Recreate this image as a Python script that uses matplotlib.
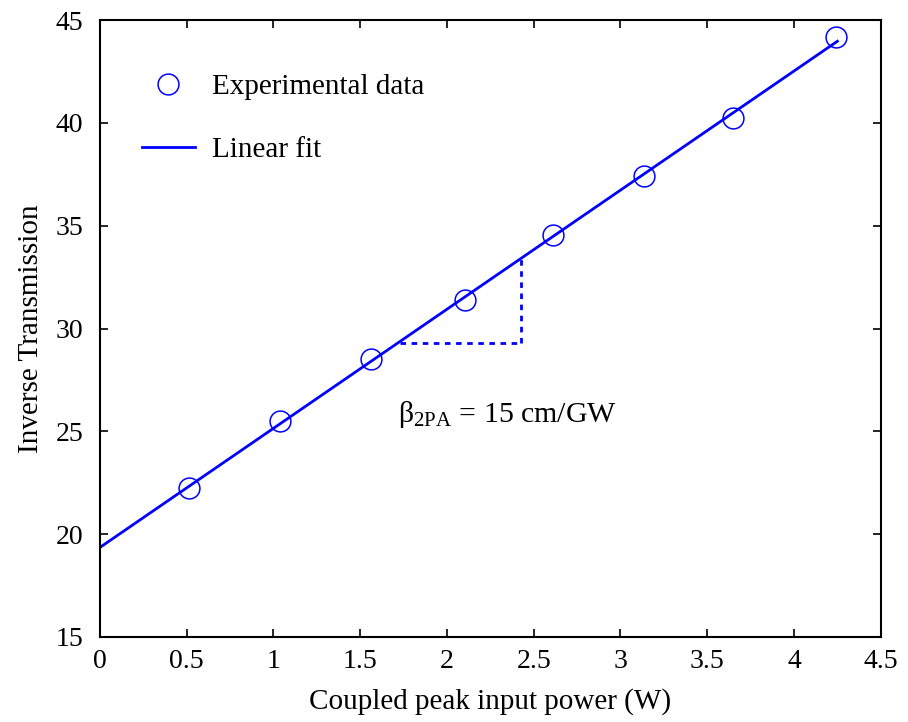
import numpy as np
import matplotlib.pyplot as plt

# coupled peak input power (W) and measured inverse transmission
power = [0.513, 1.037, 1.561, 2.103, 2.61, 3.134, 3.646, 4.24]
inv_trans = [22.24, 25.50, 28.51, 31.38, 34.54, 37.41, 40.23, 44.17]

# slope triangle corners (x, y)
tri_x = [1.73, 2.425]
tri_y = 29.29

plt.rcParams['font.family'] = ['Liberation Serif', 'DejaVu Serif']
plt.rcParams['font.size'] = 21
plt.rcParams['mathtext.fontset'] = 'stix'

fig, ax = plt.subplots(figsize=(9.08, 7.22), dpi=100)

slope, icpt = np.polyfit(power, inv_trans, 1)
xfit = np.linspace(0, 4.25, 50)

ax.plot(power, inv_trans, 'o', mfc='none', mec='blue', ms=15, mew=1.1,
        label='Experimental data')
ax.plot(xfit, icpt + slope * xfit, color='blue', lw=2.0, label='Linear fit')

# slope triangle
ax.plot(tri_x, [tri_y, tri_y], color='blue', lw=2, ls=(0, (2, 2)))
ax.plot([tri_x[1], tri_x[1]], [tri_y, icpt + slope * tri_x[1]],
        color='blue', lw=2, ls=(0, (2, 2)))
ax.text(1.72, 25.8, r'$\mathregular{β_{2PA}}$ = 15 cm/GW', fontsize=21.5,
        va='center')

ax.set_xlim(0, 4.5)
ax.set_ylim(15, 45)
ax.set_xticks(np.arange(0, 4.51, 0.5))
ax.set_xticklabels(['0', '0.5', '1', '1.5', '2', '2.5', '3', '3.5', '4', '4.5'])
ax.set_yticks(np.arange(15, 46, 5))
ax.tick_params(direction='in', length=6, width=1.2, top=True, right=True,
               labelsize=20)
ax.tick_params(axis='x', pad=9)
ax.tick_params(axis='y', pad=12)
for s in ax.spines.values():
    s.set_linewidth(1.5)

ax.set_xlabel('Coupled peak input power (W)', labelpad=10)
ax.set_ylabel('Inverse Transmission', labelpad=8)

ax.legend(loc='upper left', frameon=False, bbox_to_anchor=(0.039, 0.932),
          handlelength=1.8, handletextpad=0.6, labelspacing=1.25,
          borderaxespad=0)

fig.subplots_adjust(left=0.11, right=0.97, top=0.972, bottom=0.118)
fig.savefig('out.png')
